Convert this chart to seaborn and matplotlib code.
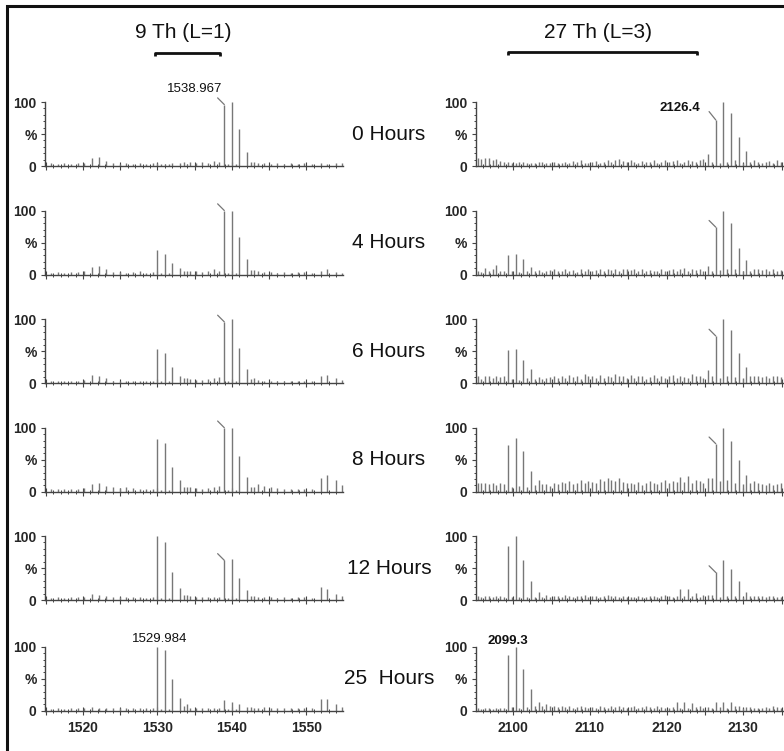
import matplotlib
matplotlib.use("Agg")
import matplotlib.pyplot as plt
from matplotlib.lines import Line2D
from matplotlib.ticker import MultipleLocator, FixedLocator, FuncFormatter
import pandas as pd
import seaborn as sns

# ---------------------------------------------------------------- data
HOURS = ["0 Hours", "4 Hours", "6 Hours", "8 Hours", "12 Hours", "25  Hours"]

# 9 Th pair (L=1): light / heavy isotope clusters (m/z) and relative intensity (%)
MZ_LIGHT_1 = [1529.984, 1530.99, 1531.99, 1532.99, 1534.00]
MZ_HEAVY_1 = [1538.967, 1539.97, 1540.97, 1541.98, 1542.98]
INT_LIGHT_1 = [
    [4, 3, 5, 4, 3],
    [38, 32, 18, 10, 5],
    [53, 48, 26, 11, 8],
    [82, 76, 39, 18, 8],
    [100, 90, 44, 18, 8],
    [100, 95, 50, 20, 10],
]
INT_HEAVY_1 = [
    [96, 100, 58, 22, 7],
    [100, 99, 58, 24, 7],
    [96, 100, 55, 22, 9],
    [100, 99, 56, 23, 8],
    [62, 64, 35, 15, 6],
    [17, 14, 10, 6, 4],
]
NOISE_MZ_1 = [1515.7, 1516.6, 1517.5, 1518.4, 1519.3, 1520.2, 1521.2, 1522.2,
              1523.1, 1524.0, 1524.9, 1525.8, 1526.7, 1527.6, 1528.5, 1529.4,
              1530.5, 1531.5, 1533.5, 1534.4, 1535.2, 1536.0, 1536.8, 1537.6,
              1538.3, 1539.5, 1540.5, 1542.5, 1543.5, 1544.3, 1545.2, 1546.1,
              1547.0, 1547.9, 1548.8, 1549.7, 1550.7, 1551.9, 1552.8, 1553.9,
              1554.8]
NOISE_INT_1 = [
    [4, 3, 4, 3, 4, 5, 12, 14, 8, 4, 3, 4, 3, 4, 3, 4, 3, 3, 7, 6, 5, 6, 4, 8, 7,
     3, 3, 6, 5, 4, 3, 4, 3, 4, 3, 4, 3, 4, 3, 4, 4],
    [3, 4, 3, 4, 4, 5, 12, 13, 8, 4, 4, 3, 4, 5, 3, 4, 3, 3, 6, 5, 5, 4, 5, 8, 6,
     3, 3, 7, 5, 4, 4, 3, 4, 3, 4, 4, 3, 5, 8, 4, 3],
    [4, 3, 4, 3, 4, 5, 13, 12, 9, 4, 3, 4, 3, 4, 4, 3, 3, 3, 8, 6, 5, 5, 6, 8, 10,
     3, 3, 6, 5, 4, 3, 4, 3, 4, 4, 3, 4, 12, 13, 9, 5],
    [4, 5, 4, 5, 5, 6, 12, 13, 9, 7, 6, 7, 6, 5, 4, 5, 3, 3, 8, 7, 6, 5, 6, 7, 9,
     3, 3, 8, 12, 9, 7, 6, 5, 5, 4, 5, 5, 22, 26, 18, 10],
    [3, 4, 3, 4, 4, 5, 9, 8, 6, 5, 4, 5, 4, 4, 3, 4, 3, 3, 8, 6, 5, 4, 5, 5, 5,
     3, 3, 6, 5, 4, 4, 3, 4, 3, 4, 4, 3, 20, 17, 10, 6],
    [3, 4, 3, 4, 4, 5, 6, 5, 5, 4, 4, 5, 4, 5, 4, 4, 3, 3, 8, 5, 5, 4, 5, 4, 5,
     3, 3, 6, 5, 6, 5, 4, 4, 5, 4, 4, 4, 18, 18, 10, 6],
]

# 27 Th pair (L=3)
MZ_LIGHT_3 = [2099.3, 2100.3, 2101.3, 2102.3, 2103.3, 2104.3]
MZ_HEAVY_3 = [2125.4, 2126.4, 2127.4, 2128.4, 2129.4, 2130.4, 2131.4]
INT_LIGHT_3 = [
    [6, 5, 7, 5, 6, 5],
    [30, 32, 24, 12, 7, 6],
    [52, 54, 36, 22, 10, 8],
    [73, 84, 63, 32, 18, 12],
    [85, 100, 63, 30, 12, 8],
    [87, 100, 65, 34, 14, 11],
]
INT_HEAVY_3 = [
    [19, 72, 100, 83, 46, 23, 9],
    [14, 74, 100, 80, 42, 22, 9],
    [21, 74, 100, 84, 47, 25, 12],
    [21, 75, 100, 79, 50, 26, 16],
    [8, 43, 63, 49, 30, 12, 6],
    [6, 13, 14, 13, 8, 6, 5],
]
NOISE_MZ_3 = [2095.4, 2095.8, 2096.3, 2096.8, 2097.3, 2097.8, 2098.3, 2098.8,
              2099.8, 2100.8, 2101.8, 2102.8, 2103.8, 2104.8,
              2105.3, 2105.8, 2106.3, 2106.8, 2107.3, 2107.8, 2108.3, 2108.8,
              2109.3, 2109.8, 2110.3, 2110.8, 2111.3, 2111.8, 2112.3, 2112.8,
              2113.3, 2113.8, 2114.3, 2114.8, 2115.3, 2115.8, 2116.3, 2116.8,
              2117.3, 2117.8, 2118.3, 2118.8, 2119.3, 2119.8, 2120.3, 2120.8,
              2121.3, 2121.8, 2122.3, 2122.8, 2123.3, 2123.8, 2124.3, 2124.8,
              2125.9, 2126.9, 2127.9, 2128.9, 2129.9, 2130.9, 2131.9,
              2132.4, 2132.9, 2133.4, 2133.9, 2134.4, 2134.9]
NOISE_INT_3 = [
    [12, 11, 13, 12, 10, 11, 8, 6, 5, 6, 5, 4, 6, 5,
     6, 4, 5, 7, 5, 8, 6, 9, 5, 4, 6, 8, 5, 7, 10, 6, 9, 11, 8, 7,
     9, 6, 5, 8, 7, 6, 9, 5, 7, 10, 6, 8, 9, 5, 7, 10, 8, 6, 9, 11,
     6, 5, 7, 9, 5, 6, 7, 5, 6, 8, 5, 9, 7],
    [6, 4, 10, 5, 8, 15, 6, 5, 5, 4, 6, 5, 4, 7,
     8, 5, 6, 9, 5, 7, 4, 8, 6, 9, 5, 7, 8, 6, 9, 7, 8, 6, 9, 8,
     7, 9, 6, 8, 5, 7, 6, 5, 8, 6, 7, 9, 6, 8, 10, 6, 9, 7, 8, 5,
     6, 7, 9, 8, 5, 6, 8, 7, 9, 6, 8, 5, 7],
    [12, 6, 12, 12, 8, 12, 10, 12, 6, 5, 8, 7, 6, 10,
     11, 8, 12, 9, 13, 10, 12, 7, 14, 11, 12, 9, 13, 8, 12, 10, 14, 11, 12, 9,
     13, 8, 11, 12, 7, 10, 13, 9, 12, 8, 11, 13, 9, 12, 10, 8, 14, 11, 12, 9,
     12, 8, 11, 10, 9, 12, 11, 10, 12, 9, 11, 12, 10],
    [14, 13, 14, 12, 14, 10, 14, 12, 8, 9, 7, 10, 12, 9,
     14, 12, 15, 13, 16, 12, 14, 18, 13, 16, 15, 14, 20, 17, 22, 18, 16, 21, 15, 13,
     14, 12, 15, 11, 13, 16, 14, 12, 15, 18, 14, 16, 15, 23, 15, 25, 14, 18, 16, 13,
     21, 16, 18, 14, 12, 13, 14, 12, 10, 13, 11, 12, 14],
    [6, 5, 7, 6, 5, 7, 6, 5, 4, 5, 4, 5, 4, 5,
     6, 7, 5, 8, 6, 5, 7, 6, 8, 5, 6, 7, 5, 6, 8, 6, 7, 5, 6, 5,
     4, 5, 6, 5, 4, 6, 7, 5, 6, 8, 6, 5, 6, 17, 7, 17, 6, 11, 5, 8,
     8, 5, 6, 7, 5, 6, 7, 6, 5, 7, 6, 5, 4],
    [4, 3, 5, 4, 3, 5, 4, 4, 6, 5, 6, 7, 8, 7,
     7, 6, 8, 6, 7, 5, 6, 7, 6, 5, 6, 5, 7, 6, 5, 7, 6, 8, 6, 5,
     6, 7, 5, 6, 7, 6, 5, 7, 6, 5, 5, 6, 14, 5, 13, 5, 12, 6, 8, 5,
     5, 6, 5, 7, 5, 6, 5, 5, 6, 5, 7, 6, 5],
]

# ---------------------------------------------------------------- tables
rows = []
for r, hour in enumerate(HOURS):
    for side, mzs, ints in (
        ("L1", MZ_LIGHT_1 + MZ_HEAVY_1 + NOISE_MZ_1,
         INT_LIGHT_1[r] + INT_HEAVY_1[r] + NOISE_INT_1[r]),
        ("L3", MZ_LIGHT_3 + MZ_HEAVY_3 + NOISE_MZ_3,
         INT_LIGHT_3[r] + INT_HEAVY_3[r] + NOISE_INT_3[r]),
    ):
        for m, v in zip(mzs, ints):
            rows.append({"hour": hour, "row": r, "side": side, "mz": m, "intensity": v})
spectra = pd.DataFrame(rows)

# ---------------------------------------------------------------- style
sns.set_theme(style="ticks")
plt.rcParams["font.family"] = ["Liberation Sans", "DejaVu Sans"]
plt.rcParams["font.weight"] = "bold"

W, H = 784, 751
fig = plt.figure(figsize=(W / 100, H / 100), dpi=100)

STICK = "#777777"
AXIS = "#444444"
baselines = [166, 274.5, 383.3, 491.7, 600, 710.7]
panel_h = 64
panels = {
    "L1": dict(left=45, width=298, xlim=(1514.9, 1554.9)),
    "L3": dict(left=475.7, width=308.3, xlim=(2095.1, 2135.3)),
}

def tens_only(v, pos):
    return f"{v:.0f}" if abs(v / 10 - round(v / 10)) < 1e-6 else ""

axes = {}
for r, hour in enumerate(HOURS):
    for side, p in panels.items():
        ax = fig.add_axes([p["left"] / W, (H - baselines[r]) / H,
                           p["width"] / W, panel_h / H])
        axes[(r, side)] = ax
        sub = spectra[(spectra.row == r) & (spectra.side == side)]
        ax.vlines(sub.mz, 0, sub.intensity, color=STICK, lw=1.0, clip_on=False)
        ax.set_xlim(*p["xlim"])
        ax.set_ylim(0, 100)
        ax.set_facecolor("none")
        sns.despine(ax=ax)
        for s in ("left", "bottom"):
            ax.spines[s].set_color(AXIS)
            ax.spines[s].set_linewidth(1.0)
        ax.spines["left"].set_bounds(0, 100)

        ax.xaxis.set_major_locator(MultipleLocator(5))
        ax.xaxis.set_minor_locator(MultipleLocator(1))
        ax.xaxis.set_major_formatter(FuncFormatter(tens_only))
        ax.yaxis.set_major_locator(FixedLocator([0, 50, 100]))
        ax.yaxis.set_minor_locator(MultipleLocator(10))
        ax.set_yticklabels(["0", "%", "100"])
        ax.tick_params(axis="x", which="major", direction="inout", length=6,
                       width=0.8, color=AXIS, pad=4.5, labelsize=10,
                       labelbottom=(r == len(HOURS) - 1))
        ax.tick_params(axis="x", which="minor", direction="inout", length=3.5,
                       width=0.7, color=AXIS)
        ax.tick_params(axis="y", which="major", direction="out", length=3,
                       width=0.8, color=AXIS, pad=3, labelsize=10)
        ax.tick_params(axis="y", which="minor", direction="out", length=1.8,
                       width=0.7, color=AXIS)
        ax.set_xlabel("")
        ax.set_ylabel("")

    # time label between the two columns
    fig.text(389 / W, (H - baselines[r] + panel_h / 2) / H, hour,
             ha="center", va="center", fontsize=15, weight="normal", color="#111111")

# leader ticks on the heavy monoisotopic peaks
for r in range(len(HOURS) - 1):
    for side, mzs, ints in (("L1", MZ_HEAVY_1, INT_HEAVY_1), ("L3", MZ_HEAVY_3, INT_HEAVY_3)):
        k = 0 if side == "L1" else 1
        dy = 6 if (side == "L3" and r == 0) else 4.8
        axes[(r, side)].annotate("", xy=(mzs[k], ints[r][k]), xytext=(-4.8, dy),
                                 textcoords="offset points",
                                 arrowprops=dict(arrowstyle="-", color=STICK, lw=0.9,
                                                 shrinkA=0, shrinkB=0),
                                 annotation_clip=False)

# peak labels
axes[(0, "L1")].annotate(f"{MZ_HEAVY_1[0]:.3f}", xy=(MZ_HEAVY_1[0], INT_HEAVY_1[0][0]),
                         xytext=(-1.7, 11.5), textcoords="offset points",
                         ha="right", va="center", fontsize=9.5, weight="normal",
                         color="#111111", annotation_clip=False)
axes[(0, "L3")].annotate(f"{MZ_HEAVY_3[1]:.1f}", xy=(MZ_HEAVY_3[1], INT_HEAVY_3[0][1]),
                         xytext=(-11.5, 8.4), textcoords="offset points",
                         ha="right", va="center", fontsize=9.5, color="#111111",
                         annotation_clip=False)
axes[(5, "L1")].annotate(f"{MZ_LIGHT_1[0]:.3f}", xy=(MZ_LIGHT_1[0], INT_LIGHT_1[5][0]),
                         xytext=(1.7, 5.5), textcoords="offset points",
                         ha="center", va="center", fontsize=9.5, weight="normal",
                         color="#111111", annotation_clip=False)
axes[(5, "L3")].annotate(f"{MZ_LIGHT_3[0]:.1f}", xy=(MZ_LIGHT_3[0], INT_LIGHT_3[5][0]),
                         xytext=(0, 10), textcoords="offset points",
                         ha="center", va="center", fontsize=9.5, color="#111111",
                         annotation_clip=False)

# shift headers with brackets
def bracket(x0, x1, y):
    yf = (H - y) / H
    tick = 3 / H
    fig.add_artist(Line2D([x0 / W, x0 / W, x1 / W, x1 / W],
                          [yf - tick, yf, yf, yf - tick],
                          color="#111111", lw=2.0, solid_capstyle="butt"))

fig.text(183 / W, (H - 32) / H, "9 Th (L=1)", ha="center", va="center",
         fontsize=15, weight="normal", color="#111111")
fig.text(597.5 / W, (H - 32) / H, "27 Th (L=3)", ha="center", va="center",
         fontsize=15, weight="normal", color="#111111")
bracket(155, 220, 53)
bracket(508, 697, 52)

# frame on the left and top edges
fx, fy = 6.5 / W, (H - 6) / H
fig.add_artist(Line2D([fx, fx, 1.0], [0.0, fy, fy], color="#111111", lw=2.2,
                      solid_joinstyle="miter"))

fig.savefig("out.png", dpi=100)
